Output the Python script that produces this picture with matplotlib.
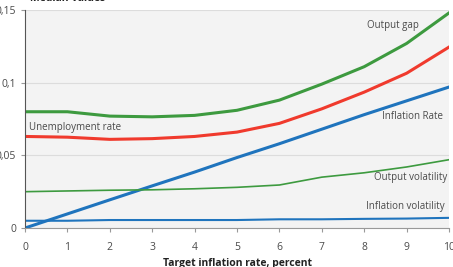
import matplotlib.pyplot as plt

x = [0, 1, 2, 3, 4, 5, 6, 7, 8, 9, 10]

output_gap = [0.080, 0.080, 0.077, 0.0765, 0.0775, 0.081, 0.088, 0.099, 0.111, 0.127, 0.148]
unemployment = [0.063, 0.0625, 0.061, 0.0615, 0.063, 0.066, 0.072, 0.082, 0.0935, 0.1065, 0.1245]
inflation_rate = [0.0, 0.0097, 0.0194, 0.029, 0.0385, 0.0485, 0.058, 0.068, 0.078, 0.0875, 0.097]
output_vol = [0.025, 0.0255, 0.026, 0.0263, 0.027, 0.028, 0.0296, 0.035, 0.038, 0.042, 0.047]
inflation_vol = [0.005, 0.005, 0.0055, 0.0055, 0.0055, 0.0055, 0.006, 0.006, 0.0063, 0.0065, 0.007]

xticks = [0, 1, 2, 3, 4, 5, 6, 7, 8, 9, 10]
yticks = [0, 0.05, 0.1, 0.15]
ytick_labels = ['0', '0,05', '0,1', '0,15']

green = '#3d9a3f'
red = '#f03a2d'
blue = '#1f74bd'
text_col = '#4a4a4a'

plt.rcParams['font.family'] = ['Open Sans', 'DejaVu Sans']

fig = plt.figure(figsize=(4.53, 2.67), dpi=100)
ax = fig.add_axes([0.0552, 0.146, 0.936, 0.8165])
ax.set_facecolor('#f3f3f3')

ax.plot(x, output_gap, color=green, lw=2.2)
ax.plot(x, unemployment, color=red, lw=2.2)
ax.plot(x, inflation_rate, color=blue, lw=2.2)
ax.plot(x, output_vol, color=green, lw=1.2)
ax.plot(x, inflation_vol, color=blue, lw=1.5)

ax.set_xlim(0, 10)
ax.set_ylim(0, 0.15)
ax.set_xticks(xticks)
ax.set_yticks(yticks)
ax.set_yticklabels(ytick_labels)
ax.yaxis.grid(True, color='#dcdcdc', lw=0.8)
ax.set_axisbelow(True)

for s in ['top', 'right']:
    ax.spines[s].set_visible(False)
ax.spines['left'].set_color('#555555')
ax.spines['bottom'].set_color('#999999')
ax.tick_params(axis='both', colors='#999999', labelcolor=text_col, labelsize=7.5, length=3)
ax.tick_params(axis='x', pad=7)

fs = 7
ax.text(9.3, 0.139, 'Output gap', color=text_col, fontsize=fs, ha='right', va='center')
ax.text(9.85, 0.0765, 'Inflation Rate', color=text_col, fontsize=fs, ha='right', va='center')
ax.text(9.95, 0.0350, 'Output volatility', color=text_col, fontsize=fs, ha='right', va='center')
ax.text(9.9, 0.0145, 'Inflation volatility', color=text_col, fontsize=fs, ha='right', va='center')
ax.text(0.1, 0.0690, 'Unemployment rate', color=text_col, fontsize=fs, ha='left', va='center')

fig.text(0.066, 1.005, 'Median Values', color='#222222', fontsize=7.5, fontweight='bold', ha='left', va='center')
ax.set_xlabel('Target inflation rate, percent', color='#222222', fontsize=7.5, fontweight='bold', labelpad=4)

fig.savefig('out.png', dpi=100)
